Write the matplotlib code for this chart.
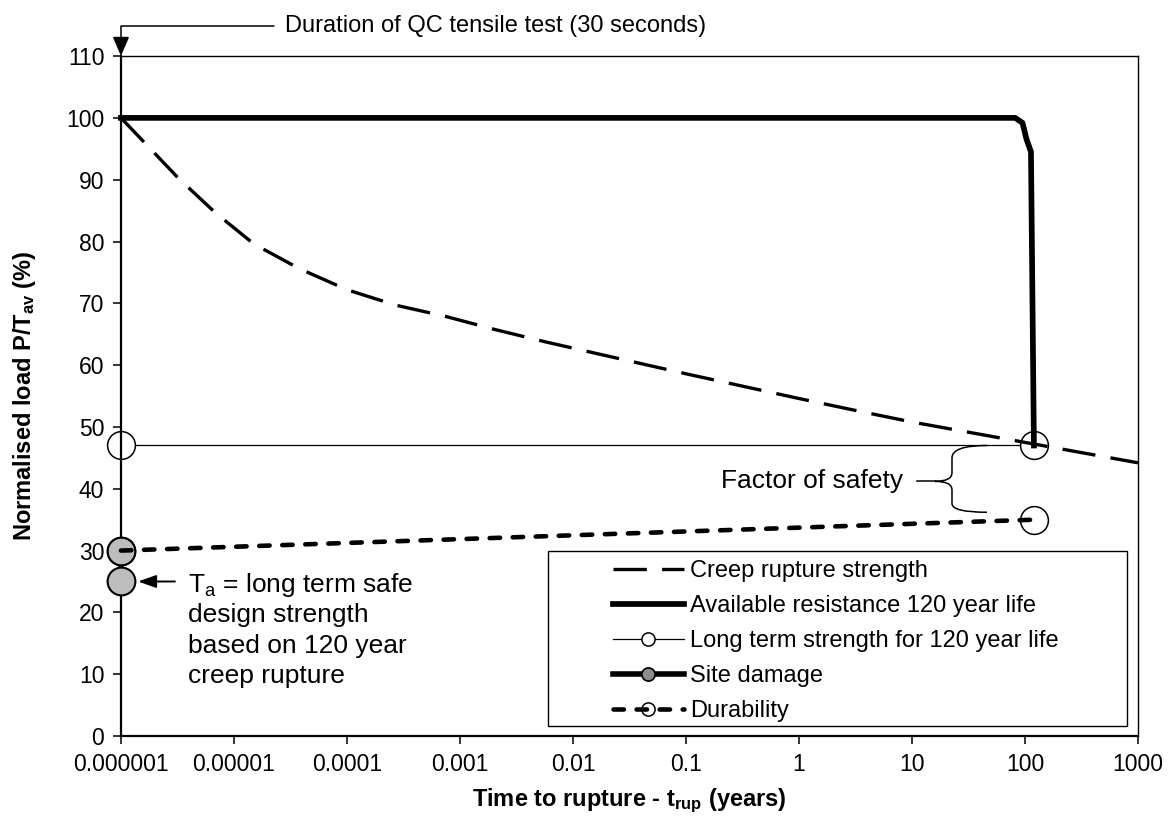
import matplotlib
matplotlib.use('Agg')
import matplotlib.pyplot as plt
from matplotlib.lines import Line2D
from matplotlib.patches import Rectangle, PathPatch
from matplotlib.path import Path
import numpy as np

plt.rcParams['font.family'] = ['Liberation Sans', 'DejaVu Sans']
plt.rcParams['mathtext.fontset'] = 'custom'
plt.rcParams['mathtext.rm'] = 'Liberation Sans'
plt.rcParams['mathtext.it'] = 'Liberation Sans:italic'
plt.rcParams['mathtext.bf'] = 'Liberation Sans:bold'
plt.rcParams['lines.scale_dashes'] = False

fs = 16.5
fs_note = 19

# ---- data (time in years, load in % of T_av) ----
creep_t = [1e-6, 3.2e-6, 6.8e-6, 1.5e-5, 3.8e-5, 1e-4, 2.7e-4, 7.4e-4, 2e-3, 5.6e-3,
           1.6e-2, 0.1, 1, 3.5, 10, 100, 1000]
creep_p = [100, 90.3, 84.7, 79.6, 75.6, 72.2, 69.7, 67.9, 65.8, 63.8,
           61.9, 58.6, 54.6, 52.5, 50.8, 47.5, 44.2]

avail_t = [1e-6, 82, 95, 103, 113, 120]
avail_p = [100, 100, 99.2, 96.6, 94.5, 47]

longterm_t = [1e-6, 120]
longterm_p = [47, 47]

site_t = [1e-6, 1e-6]
site_p = [30, 25]

durab_t = [1e-6, 120]
durab_p = [30, 35]

xticks = [1e-6, 1e-5, 1e-4, 1e-3, 1e-2, 1e-1, 1, 10, 100, 1000]
xticklabels = ['0.000001', '0.00001', '0.0001', '0.001', '0.01', '0.1', '1', '10', '100', '1000']
yticks = list(range(0, 111, 10))

legend_labels = ['Creep rupture strength', 'Available resistance 120 year life',
                 'Long term strength for 120 year life', 'Site damage', 'Durability']

creep_dash = (0, (24, 11))
durab_dash = (0, (7.5, 9.1))

fig = plt.figure(figsize=(11.71, 8.16), dpi=100)
ax = fig.add_axes([0.1033, 0.0980, 0.8685, 0.8333])

ax.plot(longterm_t, longterm_p, color='k', lw=0.9, marker='o', ms=20, mfc='white',
        mec='k', mew=1.1, zorder=2, clip_on=False)
ax.plot(site_t, site_p, color='k', lw=4, marker='o', ms=20, mfc='#bdbdbd',
        mec='k', mew=1.5, zorder=3, clip_on=False)
ax.plot(durab_t, durab_p, color='k', lw=3.3, linestyle=durab_dash, dash_capstyle='round',
        marker='o', ms=20, mfc='none', mec='k', mew=1.1, zorder=4, clip_on=False)
ax.plot(avail_t, avail_p, color='k', lw=4.1, solid_joinstyle='round', zorder=5, clip_on=False)
ax.plot(creep_t, creep_p, color='k', lw=2.4, linestyle=creep_dash, dash_capstyle='butt',
        zorder=6, clip_on=False)

ax.set_xscale('log')
ax.set_xlim(1e-6, 1000)
ax.set_ylim(0, 110)
ax.set_xticks(xticks)
ax.set_xticklabels(xticklabels)
ax.xaxis.set_minor_locator(matplotlib.ticker.NullLocator())
ax.set_yticks(yticks)
ax.tick_params(axis='both', direction='out', length=6, width=1.1, labelsize=fs, pad=6)

for side in ['left', 'bottom']:
    ax.spines[side].set_linewidth(1.6)
for side in ['top', 'right']:
    ax.spines[side].set_linewidth(1.0)

ax.set_xlabel('Time to rupture - t$_\\mathbf{rup}$ (years)', fontsize=17, fontweight='bold', labelpad=8)
ax.set_ylabel('Normalised load P/T$_\\mathbf{av}$ (%)', fontsize=17, fontweight='bold', labelpad=20)

# ---- annotations ----
ax.annotate('Duration of QC tensile test (30 seconds)', xy=(1e-6, 110),
            xytext=(2.83e-5, 1.044), textcoords=('data', 'axes fraction'),
            fontsize=17, ha='left', va='center', annotation_clip=False,
            arrowprops=dict(arrowstyle='-|>,head_length=0.7,head_width=0.3', color='k', lw=1.1,
                            connectionstyle='angle,angleA=0,angleB=90,rad=0',
                            shrinkA=6, shrinkB=0))

ax.annotate('', xy=(1.42e-6, 25), xytext=(3.0e-6, 25), annotation_clip=False,
            arrowprops=dict(arrowstyle='-|>,head_length=0.64,head_width=0.23', color='k', lw=1.4,
                            shrinkA=0, shrinkB=0, mutation_scale=17))

ta_lines = ['T$_\\mathregular{a}$ = long term safe', 'design strength', 'based on 120 year', 'creep rupture']
ta_y = [23.3, 18.4, 13.45, 8.5]
for line, yy in zip(ta_lines, ta_y):
    ax.text(3.9e-6, yy, line, fontsize=fs_note, ha='left', va='baseline')

ax.text(8.3, 41.2, 'Factor of safety', fontsize=fs_note, ha='right', va='center')
ax.plot([11.0, 16.0], [41.2, 41.2], color='k', lw=1.1)
brace_verts = [(46.1, 47.0), (22.6, 47.0), (22.6, 45.0), (22.6, 42.6), (22.6, 41.2), (16.0, 41.2),
               (22.6, 41.2), (22.6, 39.8), (22.6, 37.6), (22.6, 36.2), (46.1, 36.2)]
brace_codes = [Path.MOVETO, Path.CURVE3, Path.CURVE3, Path.LINETO, Path.CURVE3, Path.CURVE3,
               Path.CURVE3, Path.CURVE3, Path.LINETO, Path.CURVE3, Path.CURVE3]
ax.add_patch(PathPatch(Path(brace_verts, brace_codes), fill=False, ec='k', lw=1.1, zorder=3))

# ---- legend ----
handles = [
    Line2D([], [], color='k', lw=2.4, linestyle=creep_dash, dash_capstyle='butt'),
    Line2D([], [], color='k', lw=4.1),
    Line2D([], [], color='k', lw=0.9, marker='o', ms=9.5, mfc='white', mec='k', mew=1.1),
    Line2D([], [], color='k', lw=4, marker='o', ms=9.5, mfc='#8c8c8c', mec='k', mew=1.2),
    Line2D([], [], color='k', lw=3.3, linestyle=durab_dash, dash_capstyle='round',
           marker='o', ms=9.5, mfc='none', mec='k', mew=1.1),
]
ax.add_patch(Rectangle((0.468, 0.1103), 0.4944, 0.2145, transform=fig.transFigure,
                       facecolor='white', edgecolor='k', lw=1.0, zorder=8, clip_on=False))
leg = ax.legend(handles, legend_labels, loc='upper left', bbox_to_anchor=(613 / 1171, 0.3137),
                bbox_transform=fig.transFigure, frameon=False, fontsize=17, borderpad=0,
                borderaxespad=0, handlelength=3.0, handletextpad=0.25, labelspacing=0.55)
leg.set_zorder(10)

fig.savefig('out.png', dpi=100)
